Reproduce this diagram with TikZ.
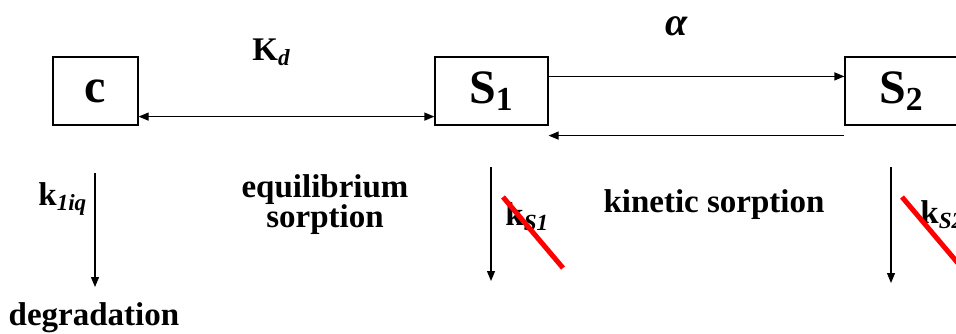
\documentclass[tikz,border=0pt]{standalone}
\usepackage{fontspec}
\setmainfont{Liberation Serif}
\usetikzlibrary{arrows.meta}

\tikzset{
  box/.style={draw, line width=0.6pt, minimum width=56.5pt, minimum height=34pt,
    inner sep=0pt, font=\fontsize{24}{26}\selectfont\bfseries},
  lbl/.style={font=\fontsize{16.5}{15}\selectfont\bfseries, inner sep=0pt, align=center},
  flow/.style={-{Triangle[length=5pt,width=4pt]}, line width=0.6pt},
  biflow/.style={{Triangle[length=5pt,width=4pt]}-{Triangle[length=5pt,width=4pt]}, line width=0.6pt},
  strike/.style={red, line width=2.5pt},
}

\begin{document}
\begin{tikzpicture}[x=0.5pt, y=-0.5pt]

    \clip (0,0) rectangle (956,333);

    % Compartments
    \node[box, minimum width=42.5pt] (c) at (95.5,91) {c};
    \node[box] (S1) at (491.5,91) {S\textsubscript{1}};
    \node[box] (S2) at (901.5,91) {S\textsubscript{2}};

    % Equilibrium sorption: c <-> S1
    \draw[biflow] ([yshift=4.5pt]c.south east) -- ([yshift=4.5pt]S1.south west);
    \node[lbl, anchor=base west] (Kd) at (252,60) {K\textsubscript{\textit{d}}};

    % Kinetic sorption: S1 <-> S2
    \draw[flow] ([yshift=-10pt]S1.north east) -- ([yshift=-10pt]S2.north west);
    \draw[flow] ([yshift=-5pt]S2.south west) -- ([yshift=-5pt]S1.south east);
    \node[lbl, font=\fontsize{20}{22}\selectfont\bfseries\itshape, anchor=base] (alpha) at (677,35) {α};

    % Degradation
    \coordinate (cTop) at (95,173);
    \coordinate (cBot) at (95,287);
    \draw[flow] (cTop) -- (cBot);
    \node[lbl, anchor=base west] (k1iq) at (38,205) {k\textsubscript{\textit{1iq}}};
    \node[lbl, anchor=base] (deg) at (94,325) {degradation};

    \coordinate (S1Top) at (491,167);
    \coordinate (S1Bot) at (491,281);
    \draw[flow] (S1Top) -- (S1Bot);
    \node[lbl, anchor=base west] (kS1) at (505,225) {k\textsubscript{\textit{S1}}};
    \draw[strike] (503,197) -- (563,268);

    \coordinate (S2Top) at (891,167);
    \coordinate (S2Bot) at (891,283);
    \draw[flow] (S2Top) -- (S2Bot);
    \node[lbl, anchor=base west] (kS2) at (920,223) {k\textsubscript{\textit{S2}}};
    \draw[strike] (902,197) -- (962,268);

    % Process names
    \node[lbl] (eqs) at (325,205) {equilibrium\\sorption};
    \node[lbl, anchor=base] (kins) at (714,212) {kinetic sorption};

\end{tikzpicture}
\end{document}
